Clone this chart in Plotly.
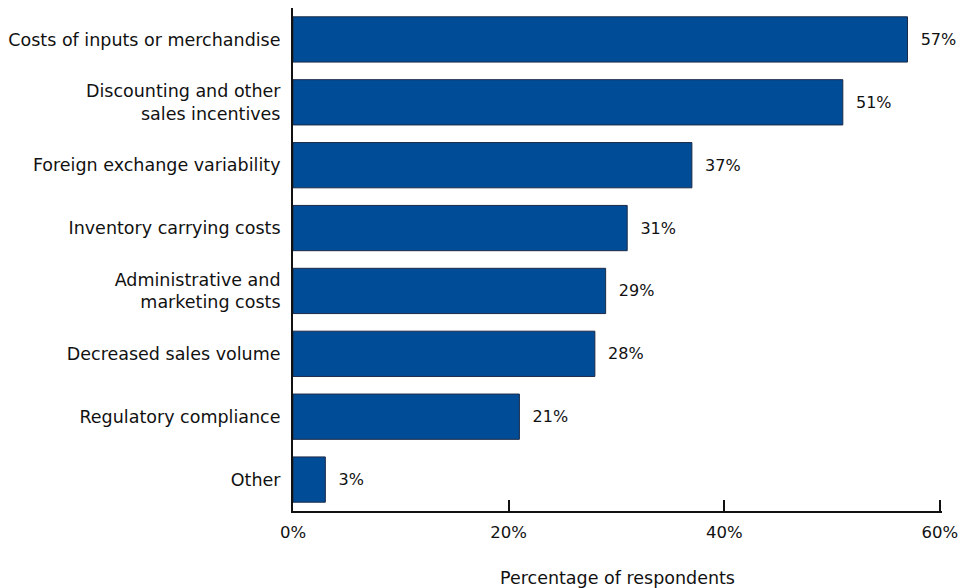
import plotly.graph_objects as go

categories = ["Costs of inputs or merchandise", "Discounting and other<br>sales incentives",
              "Foreign exchange variability", "Inventory carrying costs",
              "Administrative and<br>marketing costs", "Decreased sales volume",
              "Regulatory compliance", "Other"]
values = [57, 51, 37, 31, 29, 28, 21, 3]
x_ticks = [0, 20, 40, 60]
x_tick_labels = ["0%", "20%", "40%", "60%"]

font = dict(family="DejaVu Sans, Verdana, sans-serif", size=17.5, color="#111111")
label_font = dict(family="DejaVu Sans, Verdana, sans-serif", size=16, color="#111111")

fig = go.Figure(go.Bar(
    y=categories, x=values, orientation="h",
    marker=dict(color="#004C97", line=dict(color="#1B2A47", width=1)),
    text=[f"\u00a0\u00a0{v}%" for v in values], textposition="outside",
    textfont=label_font, outsidetextfont=label_font, cliponaxis=False, width=0.72,
))

fig.update_layout(
    width=959, height=588,
    margin=dict(l=293, r=17, t=8, b=77, autoexpand=False),
    plot_bgcolor="white", paper_bgcolor="white",
    font=font, showlegend=False,
    xaxis=dict(range=[0, 60.2], tickvals=x_ticks, ticktext=x_tick_labels,
               showgrid=False, zeroline=False, showline=True, linecolor="#111111",
               linewidth=2, ticks="inside", ticklen=11, tickwidth=2, tickcolor="#111111",
               tickfont=dict(family=font["family"], size=16.5, color="#111111"),
               ticklabelstandoff=5, automargin=False, ticklabeloverflow="allow",
               title=dict(text="Percentage of respondents", standoff=36, font=font),
               fixedrange=True),
    yaxis=dict(categoryorder="array", categoryarray=categories,
               autorange=False, range=[7.5, -0.5], showgrid=False, zeroline=False,
               showline=True, linecolor="#111111", linewidth=2, ticks="",
               tickfont=font, ticklabelstandoff=7, automargin=False),
)
fig.write_html("out.html")
